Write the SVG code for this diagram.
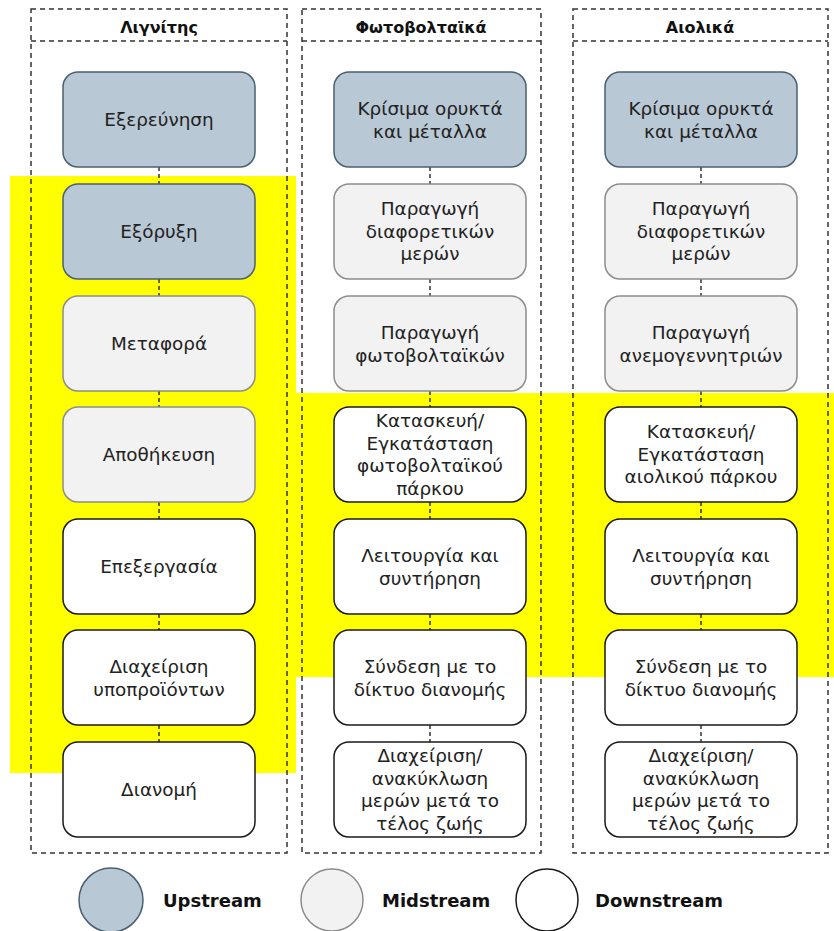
<svg xmlns="http://www.w3.org/2000/svg" width="834" height="931" viewBox="0 0 834 931">
<style>
.frame{fill:none;stroke:#333;stroke-width:1.5;stroke-dasharray:5,4}
.up{fill:#b9c8d5;stroke:#4a5f73;stroke-width:1.5}
.mid{fill:#f2f2f2;stroke:#8c8c8c;stroke-width:1.5}
.down{fill:#fff;stroke:#1a1a1a;stroke-width:1.5}
.t{font-family:"DejaVu Sans","Noto Sans",sans-serif;font-size:18.4px;fill:#222;text-anchor:middle}
.h{font-family:"DejaVu Sans","Noto Sans",sans-serif;font-size:16px;font-weight:bold;fill:#111;text-anchor:middle}
.lg{font-family:"DejaVu Sans","Noto Sans",sans-serif;font-size:18px;font-weight:bold;fill:#111}
.c{stroke:#333;stroke-width:1.5;stroke-dasharray:4,3}
</style>
<rect width="834" height="931" fill="#fff"/>
<g id="highlight">
<rect x="10" y="176" width="286" height="597" fill="#ffff00"/>
<rect x="296" y="393" width="538" height="284" fill="#ffff00"/>
</g>
<g id="frames">
<rect class="frame" x="31" y="9" width="256" height="844"/>
<line class="frame" x1="31" y1="41" x2="287" y2="41"/>
<text class="h" x="159" y="33">Λιγνίτης</text>
<rect class="frame" x="302" y="9" width="239" height="844"/>
<line class="frame" x1="302" y1="41" x2="541" y2="41"/>
<text class="h" x="421" y="33">Φωτοβολταϊκά</text>
<rect class="frame" x="573" y="9" width="255" height="844"/>
<line class="frame" x1="573" y1="41" x2="828" y2="41"/>
<text class="h" x="700" y="33">Αιολικά</text>
</g>
<g id="connectors">
<line class="c" x1="159" y1="167" x2="159" y2="184"/>
<line class="c" x1="159" y1="279" x2="159" y2="296"/>
<line class="c" x1="159" y1="391" x2="159" y2="407"/>
<line class="c" x1="159" y1="502" x2="159" y2="519"/>
<line class="c" x1="159" y1="614" x2="159" y2="630"/>
<line class="c" x1="159" y1="725" x2="159" y2="742"/>
<line class="c" x1="430" y1="167" x2="430" y2="184"/>
<line class="c" x1="430" y1="279" x2="430" y2="296"/>
<line class="c" x1="430" y1="391" x2="430" y2="407"/>
<line class="c" x1="430" y1="502" x2="430" y2="519"/>
<line class="c" x1="430" y1="614" x2="430" y2="630"/>
<line class="c" x1="430" y1="725" x2="430" y2="742"/>
<line class="c" x1="701" y1="167" x2="701" y2="184"/>
<line class="c" x1="701" y1="279" x2="701" y2="296"/>
<line class="c" x1="701" y1="391" x2="701" y2="407"/>
<line class="c" x1="701" y1="502" x2="701" y2="519"/>
<line class="c" x1="701" y1="614" x2="701" y2="630"/>
<line class="c" x1="701" y1="725" x2="701" y2="742"/>
</g>
<!-- Column 1 -->
<g id="l1"><rect class="up" x="63" y="72" width="192" height="95" rx="15"/><text class="t" x="159" y="126">Εξερεύνηση</text></g>
<g id="l2"><rect class="up" x="63" y="184" width="192" height="95" rx="15"/><text class="t" x="159" y="238">Εξόρυξη</text></g>
<g id="l3"><rect class="mid" x="63" y="296" width="192" height="95" rx="15"/><text class="t" x="159" y="350">Μεταφορά</text></g>
<g id="l4"><rect class="mid" x="63" y="407" width="192" height="95" rx="15"/><text class="t" x="159" y="461">Αποθήκευση</text></g>
<g id="l5"><rect class="down" x="63" y="519" width="192" height="95" rx="15"/><text class="t" x="159" y="573">Επεξεργασία</text></g>
<g id="l6"><rect class="down" x="63" y="630" width="192" height="95" rx="15"/><text class="t" x="159" y="673"><tspan x="159">Διαχείριση</tspan><tspan x="159" dy="22.5">υποπροϊόντων</tspan></text></g>
<g id="l7"><rect class="down" x="63" y="742" width="192" height="95" rx="15"/><text class="t" x="159" y="796">Διανομή</text></g>
<!-- Column 2 -->
<g id="p1"><rect class="up" x="334" y="72" width="192" height="95" rx="15"/><text class="t" x="430" y="115"><tspan x="430">Κρίσιμα ορυκτά</tspan><tspan x="430" dy="22.5">και μέταλλα</tspan></text></g>
<g id="p2"><rect class="mid" x="334" y="184" width="192" height="95" rx="15"/><text class="t" x="430" y="215"><tspan x="430">Παραγωγή</tspan><tspan x="430" dy="22.5">διαφορετικών</tspan><tspan x="430" dy="22.5">μερών</tspan></text></g>
<g id="p3"><rect class="mid" x="334" y="296" width="192" height="95" rx="15"/><text class="t" x="430" y="339"><tspan x="430">Παραγωγή</tspan><tspan x="430" dy="22.5">φωτοβολταϊκών</tspan></text></g>
<g id="p4"><rect class="down" x="334" y="407" width="192" height="95" rx="15"/><text class="t" x="430" y="427"><tspan x="430">Κατασκευή/</tspan><tspan x="430" dy="22.5">Εγκατάσταση</tspan><tspan x="430" dy="22.5">φωτοβολταϊκού</tspan><tspan x="430" dy="22.5">πάρκου</tspan></text></g>
<g id="p5"><rect class="down" x="334" y="519" width="192" height="95" rx="15"/><text class="t" x="430" y="562"><tspan x="430">Λειτουργία και</tspan><tspan x="430" dy="22.5">συντήρηση</tspan></text></g>
<g id="p6"><rect class="down" x="334" y="630" width="192" height="95" rx="15"/><text class="t" x="430" y="673"><tspan x="430">Σύνδεση με το</tspan><tspan x="430" dy="22.5">δίκτυο διανομής</tspan></text></g>
<g id="p7"><rect class="down" x="334" y="742" width="192" height="95" rx="15"/><text class="t" x="430" y="762"><tspan x="430">Διαχείριση/</tspan><tspan x="430" dy="22.5">ανακύκλωση</tspan><tspan x="430" dy="22.5">μερών μετά το</tspan><tspan x="430" dy="22.5">τέλος ζωής</tspan></text></g>
<!-- Column 3 -->
<g id="a1"><rect class="up" x="605" y="72" width="192" height="95" rx="15"/><text class="t" x="701" y="115"><tspan x="701">Κρίσιμα ορυκτά</tspan><tspan x="701" dy="22.5">και μέταλλα</tspan></text></g>
<g id="a2"><rect class="mid" x="605" y="184" width="192" height="95" rx="15"/><text class="t" x="701" y="215"><tspan x="701">Παραγωγή</tspan><tspan x="701" dy="22.5">διαφορετικών</tspan><tspan x="701" dy="22.5">μερών</tspan></text></g>
<g id="a3"><rect class="mid" x="605" y="296" width="192" height="95" rx="15"/><text class="t" x="701" y="339"><tspan x="701">Παραγωγή</tspan><tspan x="701" dy="22.5">ανεμογεννητριών</tspan></text></g>
<g id="a4"><rect class="down" x="605" y="407" width="192" height="95" rx="15"/><text class="t" x="701" y="438"><tspan x="701">Κατασκευή/</tspan><tspan x="701" dy="22.5">Εγκατάσταση</tspan><tspan x="701" dy="22.5">αιολικού πάρκου</tspan></text></g>
<g id="a5"><rect class="down" x="605" y="519" width="192" height="95" rx="15"/><text class="t" x="701" y="562"><tspan x="701">Λειτουργία και</tspan><tspan x="701" dy="22.5">συντήρηση</tspan></text></g>
<g id="a6"><rect class="down" x="605" y="630" width="192" height="95" rx="15"/><text class="t" x="701" y="673"><tspan x="701">Σύνδεση με το</tspan><tspan x="701" dy="22.5">δίκτυο διανομής</tspan></text></g>
<g id="a7"><rect class="down" x="605" y="742" width="192" height="95" rx="15"/><text class="t" x="701" y="762"><tspan x="701">Διαχείριση/</tspan><tspan x="701" dy="22.5">ανακύκλωση</tspan><tspan x="701" dy="22.5">μερών μετά το</tspan><tspan x="701" dy="22.5">τέλος ζωής</tspan></text></g>
<!-- Legend -->
<g id="legend">
<circle cx="111" cy="900" r="32" fill="#b9c8d5" stroke="#4a5f73" stroke-width="1.5"/>
<text class="lg" x="163" y="907">Upstream</text>
<circle cx="332" cy="900" r="31" fill="#f2f2f2" stroke="#8c8c8c" stroke-width="1.5"/>
<text class="lg" x="382" y="907">Midstream</text>
<circle cx="547" cy="900" r="31" fill="#fff" stroke="#1a1a1a" stroke-width="1.5"/>
<text class="lg" x="595" y="907">Downstream</text>
</g>
</svg>
